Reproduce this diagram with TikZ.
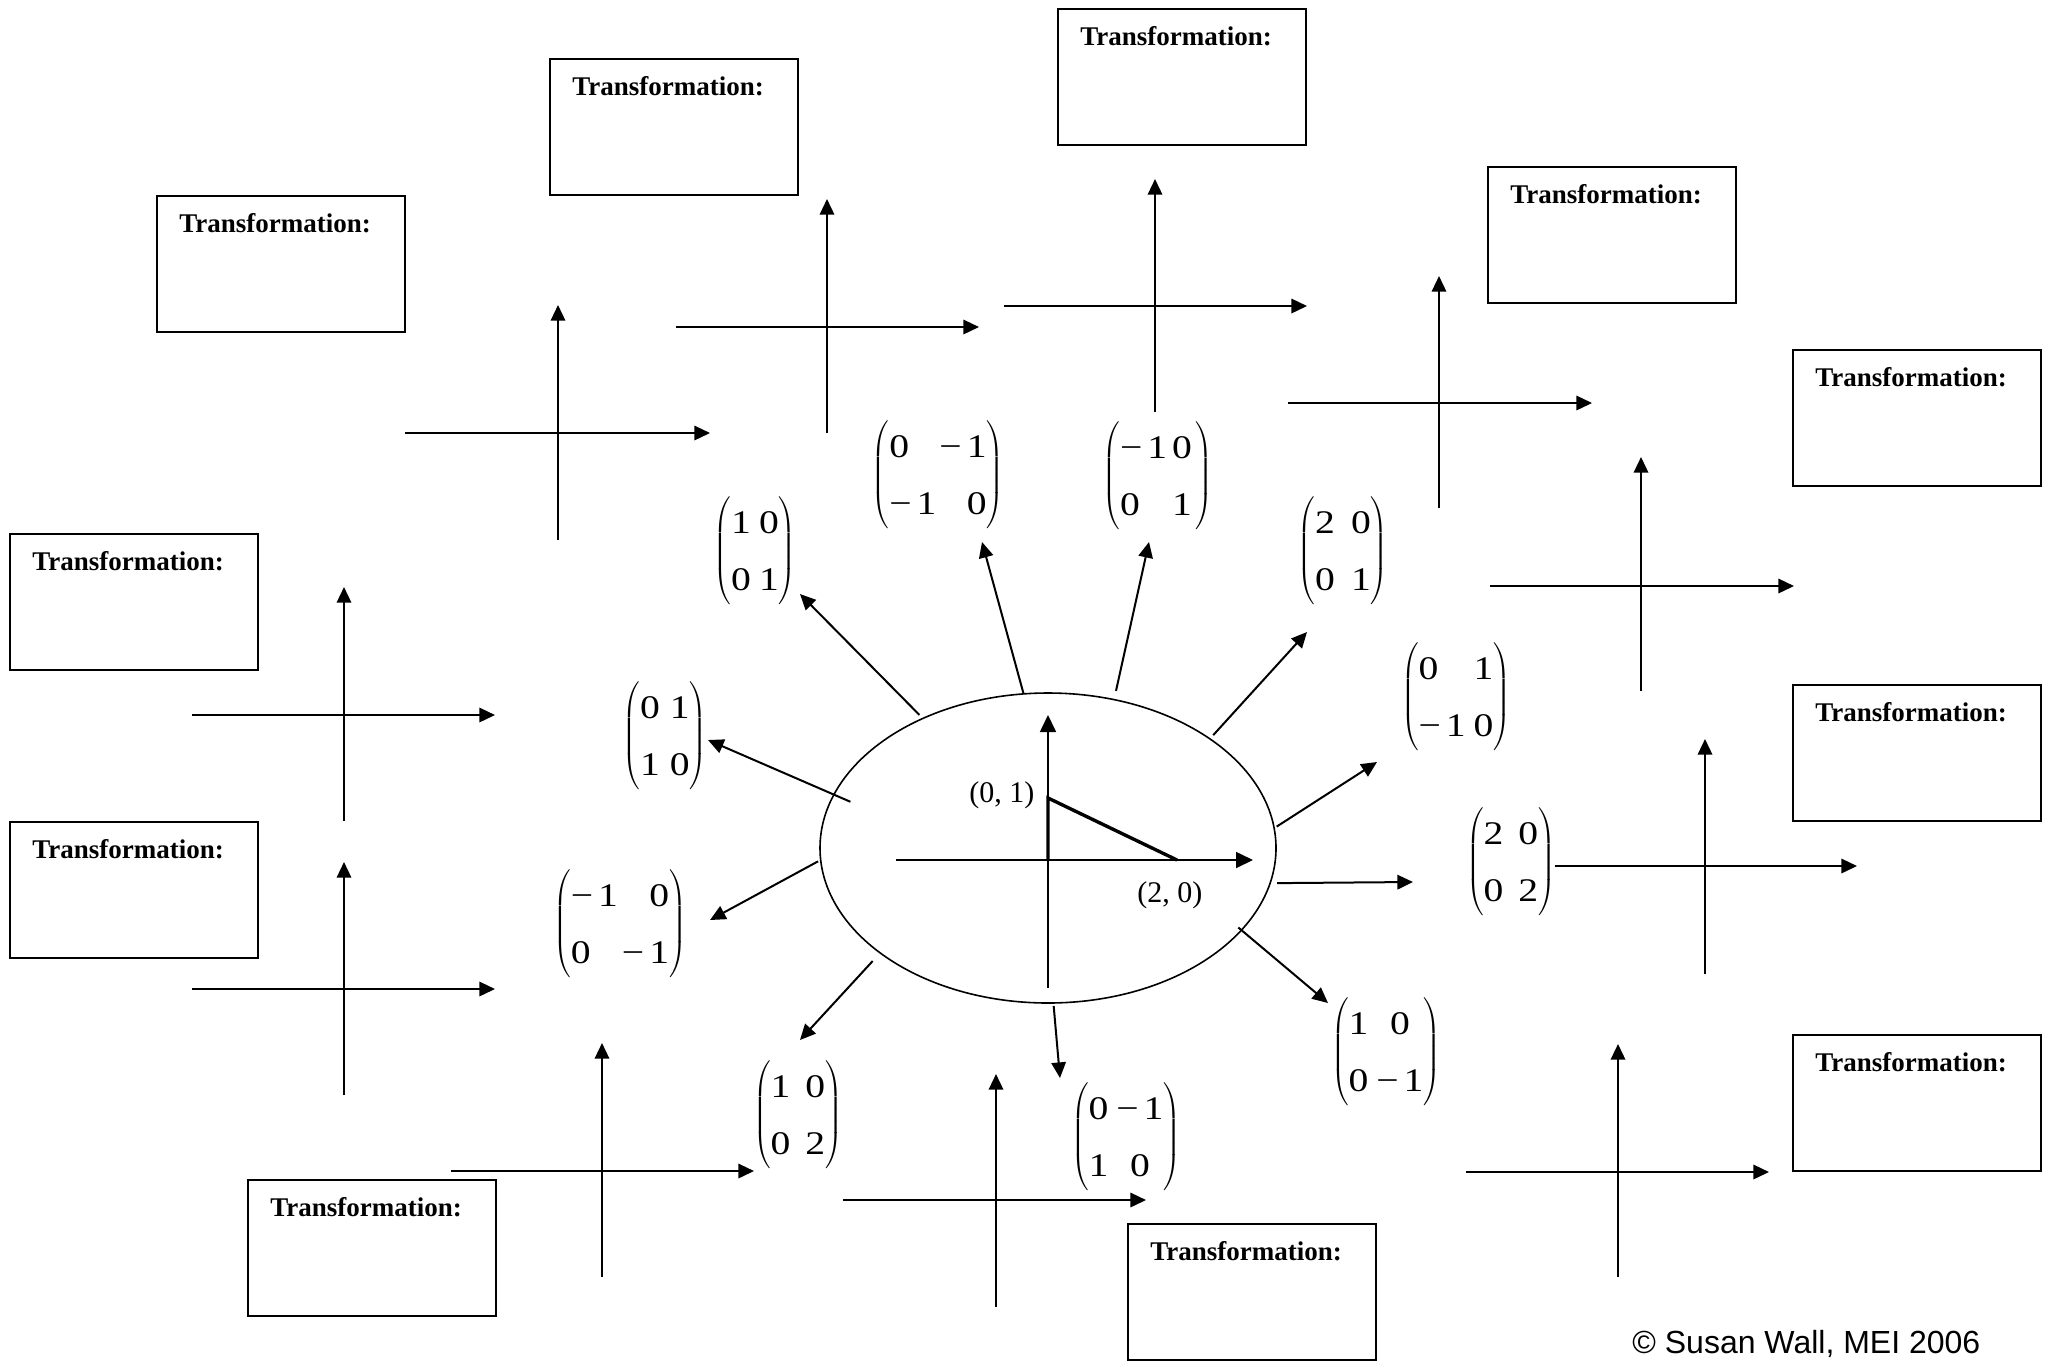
\documentclass[tikz,border=0pt]{standalone}
\usepackage{fontspec}
\setmainfont{Liberation Serif}
\newfontfamily\mfont[FakeStretch=1.2]{Liberation Serif}
\newfontfamily\cfont{Liberation Sans}
\usetikzlibrary{shapes.geometric,arrows.meta,calc}

\newcommand{\mn}{−\kern2.5pt}
% matrix: column spec, row 1, row 2
\newcommand{\mtx}[3]{{\delimitershortfall=2pt\delimiterfactor=901
 $\left(\vcenter{\hbox{\begin{tabular}{#1}\rule{0pt}{16.3pt}#2\\[9.5pt]#3\end{tabular}}}\right)$}}
\newcommand{\axcross}[7]{%
 \coordinate (#1v0) at (#2,#4); \coordinate (#1v1) at (#2,#3);
 \coordinate (#1h0) at (#6,#5); \coordinate (#1h1) at (#7,#5);
 \draw[ax] (#1v0) -- (#1v1); \draw[ax] (#1h0) -- (#1h1);}

\tikzset{
 ax/.style={line width=1pt, -{Triangle[length=7.8pt,width=7.2pt]}},
 arr/.style={line width=1pt, -{Triangle[length=7.8pt,width=7.2pt]}},
 tlab/.style={anchor=base west, inner sep=0pt, xshift=11pt, yshift=-18pt,
   font=\bfseries\fontsize{13.5}{16}\selectfont},
 tbox/.style={draw, line width=1pt, minimum width=124pt, minimum height=68pt,
   inner sep=0pt, outer sep=0pt, anchor=north west,
   label={[tlab]north west:Transformation:}},
 mat/.style={inner sep=0pt, outer sep=0pt,
   font=\mfont\fontsize{16.5}{19}\selectfont},
 ptlab/.style={anchor=base west, inner sep=0pt, font=\fontsize{15}{18}\selectfont},
}

\begin{document}
\begin{tikzpicture}[x=0.5pt,y=-0.5pt]
\fill[white] (0,0) rectangle (2049,1361);
\useasboundingbox (0,0) rectangle (2049,1361);

% transformation boxes
\node[tbox] (b1) at (157,196) {};
\node[tbox] (b2) at (550,59) {};
\node[tbox] (b3) at (1058,9) {};
\node[tbox] (b4) at (1488,167) {};
\node[tbox] (b5) at (1793,350) {};
\node[tbox] (b6) at (1793,685) {};
\node[tbox] (b7) at (1793,1035) {};
\node[tbox] (b8) at (1128,1224) {};
\node[tbox] (b9) at (248,1180) {};
\node[tbox] (b10) at (10,822) {};
\node[tbox] (b11) at (10,534) {};

% axes crosses: name, vx, vtop, vbottom, hy, hleft, hright
\axcross{A}{558}{305}{540}{433}{405}{710}
\axcross{B}{827}{199}{433}{327}{676}{979}
\axcross{C}{1155}{179}{412}{306}{1004}{1307}
\axcross{D}{1439}{276}{508}{403}{1288}{1592}
\axcross{E}{1641}{457}{691}{586}{1490}{1794}
\axcross{F}{1705}{739}{974}{866}{1555}{1857}
\axcross{G}{1618}{1044}{1277}{1172}{1466}{1769}
\axcross{H}{996}{1074}{1307}{1200}{843}{1146}
\axcross{I}{602}{1043}{1277}{1171}{451}{754}
\axcross{J}{344}{862}{1095}{989}{192}{495}
\axcross{K}{344}{587}{821}{715}{192}{495}

% central ellipse
\node[draw, ellipse, line width=0.8pt, minimum width=228pt, minimum height=155pt,
      inner sep=0pt, outer sep=0pt] (E) at (1048,848) {};
\coordinate (Ox) at (896,860);
\coordinate (Xe) at (1253,860);
\coordinate (Oy) at (1048,988);
\coordinate (Ye) at (1048,715);
\draw[line width=0.85pt, -{Triangle[length=8.5pt,width=8pt]}] (Ox) -- (Xe);
\draw[line width=0.85pt, -{Triangle[length=8.5pt,width=8pt]}] (Oy) -- (Ye);
\coordinate (O) at (1048,860);
\coordinate (P01) at (1048,798);
\coordinate (P20) at (1177,860);
\coordinate (Pb) at (1115,860);
\draw[line width=1.7pt, line join=miter] (O) -- (P01) -- (P20);
\draw[line width=1.3pt] (O) -- (Pb);
\node[ptlab] (l01) at (969,802) {(0, 1)};
\node[ptlab] (l20) at (1137,902) {(2, 0)};

% matrices
\node[mat] (m1) at (755,551) {\mtx{@{}c@{\hspace{4pt}}c@{}}{1 & 0}{0 & 1}};
\node[mat] (m2) at (938,475) {\mtx{@{}l@{\hspace{1.5pt}}r@{}}{0 & \mn1}{\mn1 & 0}};
\node[mat] (m3) at (1158,476) {\mtx{@{}l@{\hspace{2.5pt}}l@{\hspace{2pt}}}{\mn1 & 0}{0 & 1}};
\node[mat] (m4) at (1343,551) {\mtx{@{}c@{\hspace{8pt}}c@{}}{2 & 0}{0 & 1}};
\node[mat] (m5) at (1456,697) {\mtx{@{}l@{\hspace{4pt}}c@{}}{0 & 1}{\mn1 & 0}};
\node[mat] (m6) at (1511,862) {\mtx{@{}c@{\hspace{7.5pt}}c@{}}{2 & 0}{0 & 2}};
\node[mat] (m7) at (1386,1052) {\mtx{@{}l@{\hspace{4pt}}c@{}}{1 & 0}{0 & \mn1}};
\node[mat] (m8) at (1126,1137) {\mtx{@{}l@{\hspace{4pt}}c@{}}{0 & \mn1}{1 & 0}};
\node[mat] (m9) at (798,1115) {\mtx{@{}c@{\hspace{7.5pt}}c@{}}{1 & 0}{0 & 2}};
\node[mat] (m10) at (620,924) {\mtx{@{}l@{\hspace{2pt}}r@{}}{\mn1 & 0}{0 & \mn1}};
\node[mat] (m11) at (665,736) {\mtx{@{}c@{\hspace{5pt}}c@{}}{0 & 1}{1 & 0}};

% arrow tips next to the matrices
\coordinate (t1) at (800,594);
\coordinate (t2) at (982,542);
\coordinate (t3) at (1149,542);
\coordinate (t4) at (1307,632);
\coordinate (t5) at (1377,762);
\coordinate (t6) at (1413,882);
\coordinate (t7) at (1328,1003);
\coordinate (t8) at (1060,1078);
\coordinate (t9) at (800,1040);
\coordinate (t10) at (710,920);
\coordinate (t11) at (708,740);

\draw[arr, shorten <=2.5pt] (E.134) -- (t1);
\draw[arr] (E.99) -- (t2);
\draw[arr, shorten <=4.5pt] (E.66) -- (t3);
\draw[arr, shorten <=2.5pt] (E.34) -- (t4);
\draw[arr, shorten <=1.5pt] (E.5) -- (t5);
\draw[arr, shorten <=3.5pt] (E.-9) -- (t6);
\draw[arr, shorten <=-2pt] (E.-23) -- (t7);
\draw[arr, shorten <=1.5pt] (E.-88) -- (t8);
\draw[arr, shorten <=5.5pt] (E.212) -- (t9);
\draw[arr, shorten <=1.5pt] (E.183) -- (t10);
\draw[arr, shorten <=-9pt] (E.166) -- (t11);

% copyright
\node[anchor=base west, inner sep=0pt, font=\cfont\fontsize{16}{19}\selectfont] (copy) at (1632,1353) {© Susan Wall, MEI 2006};
\end{tikzpicture}
\end{document}
